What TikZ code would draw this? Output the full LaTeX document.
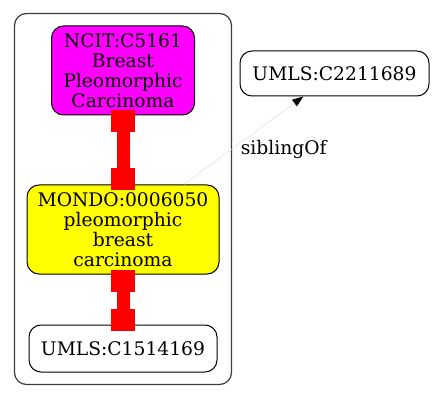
\documentclass[tikz,border=0pt]{standalone}
\usepackage{fontspec}
\setmainfont{DejaVu Serif}
\usepackage{tikz}
\usepackage{xcolor}
\usetikzlibrary{arrows.meta, positioning, fit, backgrounds}
\definecolor{termmagenta}{RGB}{255, 0, 255}
\definecolor{termyellow}{RGB}{255, 255, 0}
\definecolor{xrefred}{RGB}{255, 0, 0}
\definecolor{framegray}{RGB}{60, 60, 60}
\definecolor{siblinggray}{RGB}{215, 215, 215}

\begin{document}
\begin{tikzpicture}[
	x=1pt, y=1pt,
	% term node styles
	term/.style={
			rectangle,
			rounded corners=12pt,
			draw=black,
			line width=1pt,
			align=center,
			inner sep=4pt,
			font=\fontsize{18.7}{20}\selectfont
		},
	ncitterm/.style={
			term,
			minimum width=143pt,
			minimum height=89pt,
			fill=termmagenta
		},
	mondoterm/.style={
			term,
			minimum width=192pt,
			minimum height=89pt,
			fill=termyellow
		},
	umlsterm/.style={
			term,
			minimum width=188pt,
			minimum height=47pt,
			fill=white
		},
	clusterbox/.style={
			rectangle,
			rounded corners=12pt,
			draw=framegray,
			line width=1.2pt,
			inner sep=12pt
		},
	xrefedge/.style={
	{Square[length=22pt, width=24pt, line width=0pt]}-{Square[length=22pt, width=24pt, line width=0pt]},
	line width=13pt,
	color=xrefred,
	shorten <=-5pt,
	shorten >=-6pt
	},
	siblingedge/.style={
	-{Triangle[length=11pt, width=8pt, color=black]},
	line width=0.4pt,
	color=siblinggray
	},
	edgelabel/.style={
			font=\fontsize{18.7}{20}\selectfont,
			text=black,
			inner sep=3pt
		}
	]

	\useasboundingbox (0, 0) rectangle (432, 400);

	% terms inside the cluster
	\node[mondoterm] (mondo) at (123, 170.5) {MONDO:0006050\\pleomorphic\\breast\\carcinoma};
	\node[ncitterm, above=69pt of mondo] (ncit) {NCIT:C5161\\Breast\\Pleomorphic\\Carcinoma};
	\node[umlsterm, below=50pt of mondo] (umls1) {UMLS:C1514169};

	% term outside the cluster
	\node[umlsterm, minimum width=189pt, minimum height=45pt] (umls2) at (334.5, 326.5) {UMLS:C2211689};

	% cluster frame
	\node[clusterbox, fit={(ncit) (mondo) (umls1)}] (cluster) {};

	% xref edges
	\draw[xrefedge] (ncit) -- (mondo);
	\draw[xrefedge] (mondo) -- (umls1);

	% sibling edge
	\draw[siblingedge] (mondo) -- node[edgelabel, pos=0.4, anchor=west, xshift=6pt] {siblingOf} (umls2);

\end{tikzpicture}
\end{document}
